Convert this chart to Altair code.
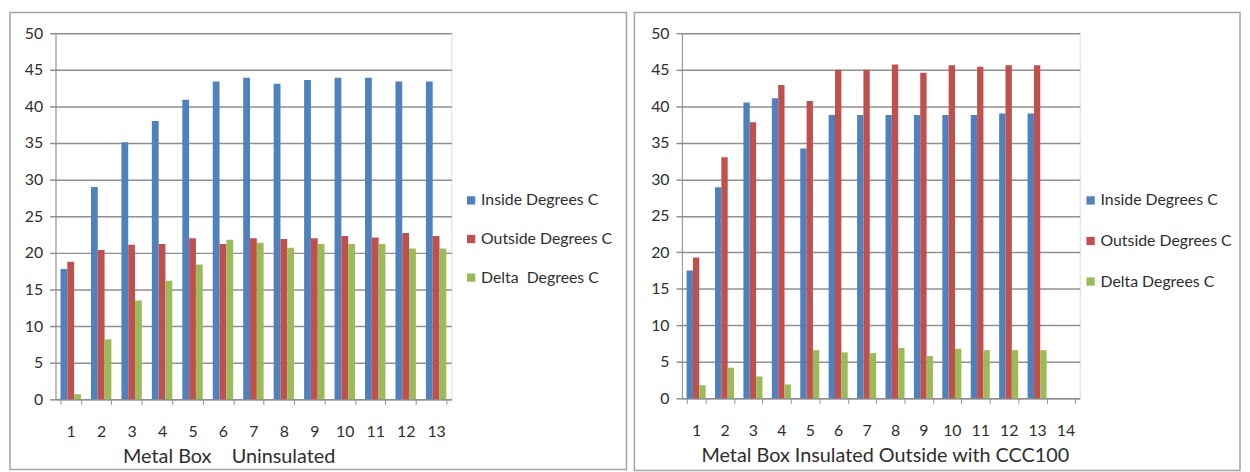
import altair as alt
import pandas as pd

# ---- data: left panel (Metal Box Uninsulated) ----
cats_left = [str(i) for i in range(1, 14)]
inside_left = [17.8, 29.0, 35.1, 38.0, 40.9, 43.4, 43.9, 43.1, 43.6, 43.9, 43.9, 43.4, 43.4]
outside_left = [18.8, 20.4, 21.1, 21.2, 22.0, 21.2, 22.0, 21.9, 22.0, 22.3, 22.1, 22.7, 22.3]
delta_left = [0.7, 8.2, 13.5, 16.2, 18.4, 21.8, 21.4, 20.7, 21.2, 21.2, 21.2, 20.6, 20.6]
series_left = ["Inside Degrees C", "Outside Degrees C", "Delta\u00a0\u00a0Degrees C"]
title_left = "Metal Box\u00a0\u00a0\u00a0\u00a0Uninsulated"

# ---- data: right panel (Metal Box Insulated Outside with CCC100) ----
cats_right = [str(i) for i in range(1, 15)]
inside_right = [17.5, 28.9, 40.5, 41.1, 34.2, 38.8, 38.8, 38.8, 38.8, 38.8, 38.8, 39.0, 39.0]
outside_right = [19.3, 33.0, 37.8, 42.9, 40.7, 45.0, 45.0, 45.7, 44.6, 45.6, 45.4, 45.6, 45.6]
delta_right = [1.8, 4.2, 3.0, 1.9, 6.6, 6.3, 6.2, 6.9, 5.8, 6.8, 6.6, 6.6, 6.6]
series_right = ["Inside Degrees C", "Outside Degrees C", "Delta Degrees C"]
title_right = "Metal Box Insulated Outside with CCC100"

colors = ["#4F81BD", "#C0504D", "#9BBB59"]
y_ticks = list(range(0, 51, 5))

FONT = "Lato, Liberation Sans, sans-serif"
TEXT = "#2e2e2e"
GRID = "#8f8f8f"


def make_df(cats, series, a, b, c):
    rows = []
    for i in range(len(a)):
        for s, vals in zip(series, (a, b, c)):
            rows.append({"cat": cats[i], "series": s, "value": vals[i]})
    return pd.DataFrame(rows)


def panel(cats, series, a, b, c, title, width, height, title_x,
          legend_x, legend_y, frame_box, row_pad):
    df = make_df(cats, series, a, b, c)
    bars = alt.Chart(df).mark_bar().encode(
        x=alt.X(
            "cat:N",
            sort=cats,
            scale=alt.Scale(domain=cats, paddingInner=0.33, paddingOuter=0.165),
            axis=alt.Axis(
                title=title,
                labelAngle=0,
                tickBand="extent",
                tickSize=5,
                tickColor=GRID,
                domainColor=GRID,
                labelPadding=20,
                labelFont=FONT,
                labelFontSize=16,
                labelColor=TEXT,
                grid=False,
                titleFont=FONT,
                titleFontSize=20,
                titleFontWeight="normal",
                titleColor=TEXT,
                titleX=title_x,
                titleY=58,
                titleAlign="center",
                titleBaseline="middle",
            ),
        ),
        xOffset=alt.XOffset("series:N", sort=series, scale=alt.Scale(domain=series)),
        y=alt.Y(
            "value:Q",
            scale=alt.Scale(domain=[0, 50], nice=False),
            axis=alt.Axis(
                title=None,
                values=y_ticks,
                tickSize=6,
                tickColor=GRID,
                tickWidth=1.5,
                gridColor=GRID,
                gridWidth=1.5,
                domainColor=GRID,
                labelPadding=7,
                labelFont=FONT,
                labelFontSize=16,
                labelColor=TEXT,
            ),
        ),
        color=alt.Color(
            "series:N",
            scale=alt.Scale(domain=series, range=colors),
            legend=alt.Legend(
                title=None,
                orient="none",
                legendX=legend_x,
                legendY=legend_y,
                symbolType="square",
                symbolSize=70,
                symbolStrokeWidth=0,
                labelFont=FONT,
                labelFontSize=16,
                labelColor=TEXT,
                labelOffset=2,
                rowPadding=row_pad,
            ),
        ),
    )
    fx1, fx2, fy1, fy2 = frame_box
    frame = alt.Chart(pd.DataFrame({"k": [0]})).mark_rect(
        filled=False, stroke="#a3a3a3", strokeWidth=1.5
    ).encode(
        x=alt.value(fx1), x2=alt.value(fx2), y=alt.value(fy1), y2=alt.value(fy2)
    )
    return alt.layer(frame, bars).properties(width=width, height=height)


left = panel(cats_left, series_left, inside_left, outside_left, delta_left,
             title_left, 400, 370, 175, 412, 161, (-46, 577, -21, 441), 23)
right = panel(cats_right, series_right, inside_right, outside_right, delta_right,
              title_right, 402, 369, 205, 405, 161, (-48, 564, -21, 442), 25)

chart = (
    alt.hconcat(left, right, spacing=4)
    .resolve_scale(x="independent", y="independent", color="independent", xOffset="independent")
    .resolve_legend(color="independent")
    .properties(padding=0)
    .configure_view(strokeWidth=0)
    .configure(background="white")
)

chart.save("out.html", embed_options={"renderer": "svg", "actions": False})
